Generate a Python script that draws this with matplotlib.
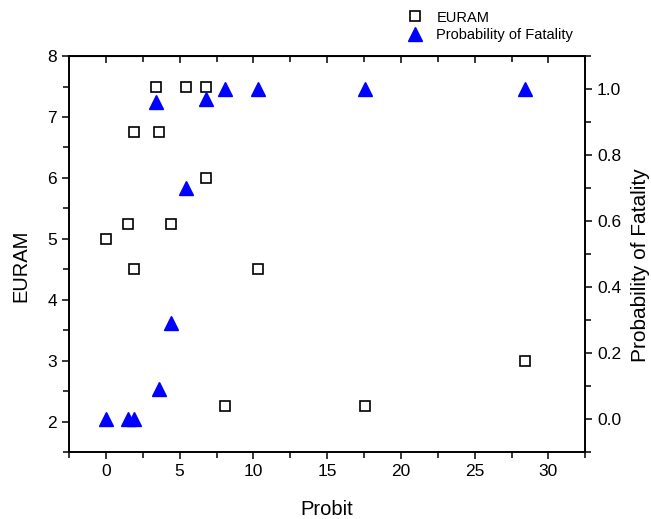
import matplotlib.pyplot as plt
from matplotlib.ticker import MultipleLocator, FormatStrFormatter

plt.rcParams['font.family'] = ['Liberation Sans', 'DejaVu Sans']

# EURAM values against probit
probit_euram = [0.0, 1.5, 1.9, 1.9, 3.4, 3.6, 4.4, 5.4, 6.8, 6.8, 8.1, 10.3, 17.6, 28.4]
euram = [5.0, 5.25, 4.5, 6.75, 7.5, 6.75, 5.25, 7.5, 7.5, 6.0, 2.25, 4.5, 2.25, 3.0]

# probability of fatality against probit
probit_fat = [0.0, 1.5, 1.9, 3.6, 4.4, 5.4, 3.4, 6.8, 8.1, 10.3, 17.6, 28.4]
fatality = [0.0, 0.0, 0.0, 0.09, 0.29, 0.70, 0.96, 0.97, 1.0, 1.0, 1.0, 1.0]

fig = plt.figure(figsize=(6.51, 5.19), dpi=100)
ax = fig.add_axes([0.106, 0.129, 0.793, 0.763])
ax2 = ax.twinx()

h1, = ax.plot(probit_euram, euram, linestyle="none", marker="s", markersize=6.8,
              markerfacecolor="white", markeredgecolor="black", markeredgewidth=1.2,
              label="EURAM")
h2, = ax2.plot(probit_fat, fatality, linestyle="none", marker="^", markersize=10.5,
               color="blue", label="Probability of Fatality")

ax.set_xlim(-2.5, 32.5)
ax.set_ylim(1.5, 8.0)
ax2.set_ylim(-0.1, 1.1)

ax.xaxis.set_major_locator(MultipleLocator(5))
ax.xaxis.set_minor_locator(MultipleLocator(2.5))
ax.yaxis.set_major_locator(MultipleLocator(1))
ax.yaxis.set_minor_locator(MultipleLocator(0.5))
ax2.yaxis.set_major_locator(MultipleLocator(0.2))
ax2.yaxis.set_minor_locator(MultipleLocator(0.1))
ax2.yaxis.set_major_formatter(FormatStrFormatter("%.1f"))

ax.tick_params(axis="x", which="both", bottom=True, top=False, direction="out",
               labelsize=12.5, width=1.1)
ax.tick_params(axis="y", which="both", left=True, right=False, direction="out",
               labelsize=12.5, width=1.1)
ax.tick_params(which="major", length=5)
ax.tick_params(which="minor", length=4)
ax2.tick_params(axis="y", which="both", direction="out", labelsize=12.5, width=1.1)
ax2.tick_params(which="major", length=5)
ax2.tick_params(which="minor", length=4)

# top axis carries inward ticks without labels
top = ax.secondary_xaxis("top")
top.xaxis.set_major_locator(MultipleLocator(5))
top.xaxis.set_minor_locator(MultipleLocator(2.5))
top.tick_params(axis="x", which="both", direction="in", labeltop=False, width=1.1)
top.tick_params(which="major", length=5)
top.tick_params(which="minor", length=4)

for a in (ax, ax2):
    for s in a.spines.values():
        s.set_linewidth(1.2)

ax.set_xlabel("Probit", fontsize=14.5, labelpad=15)
ax.set_ylabel("EURAM", fontsize=14.5, labelpad=12)
ax2.set_ylabel("Probability of Fatality", fontsize=15, labelpad=7)
ax.yaxis.label.set_y(0.47)
ax2.yaxis.label.set_y(0.472)

fig.legend(handles=[h1, h2], loc="upper left", bbox_to_anchor=(0.601, 1.005),
           frameon=False, fontsize=10.5, handletextpad=0.7, labelspacing=0.25,
           handlelength=1.5)

fig.savefig("out.png", dpi=100)
